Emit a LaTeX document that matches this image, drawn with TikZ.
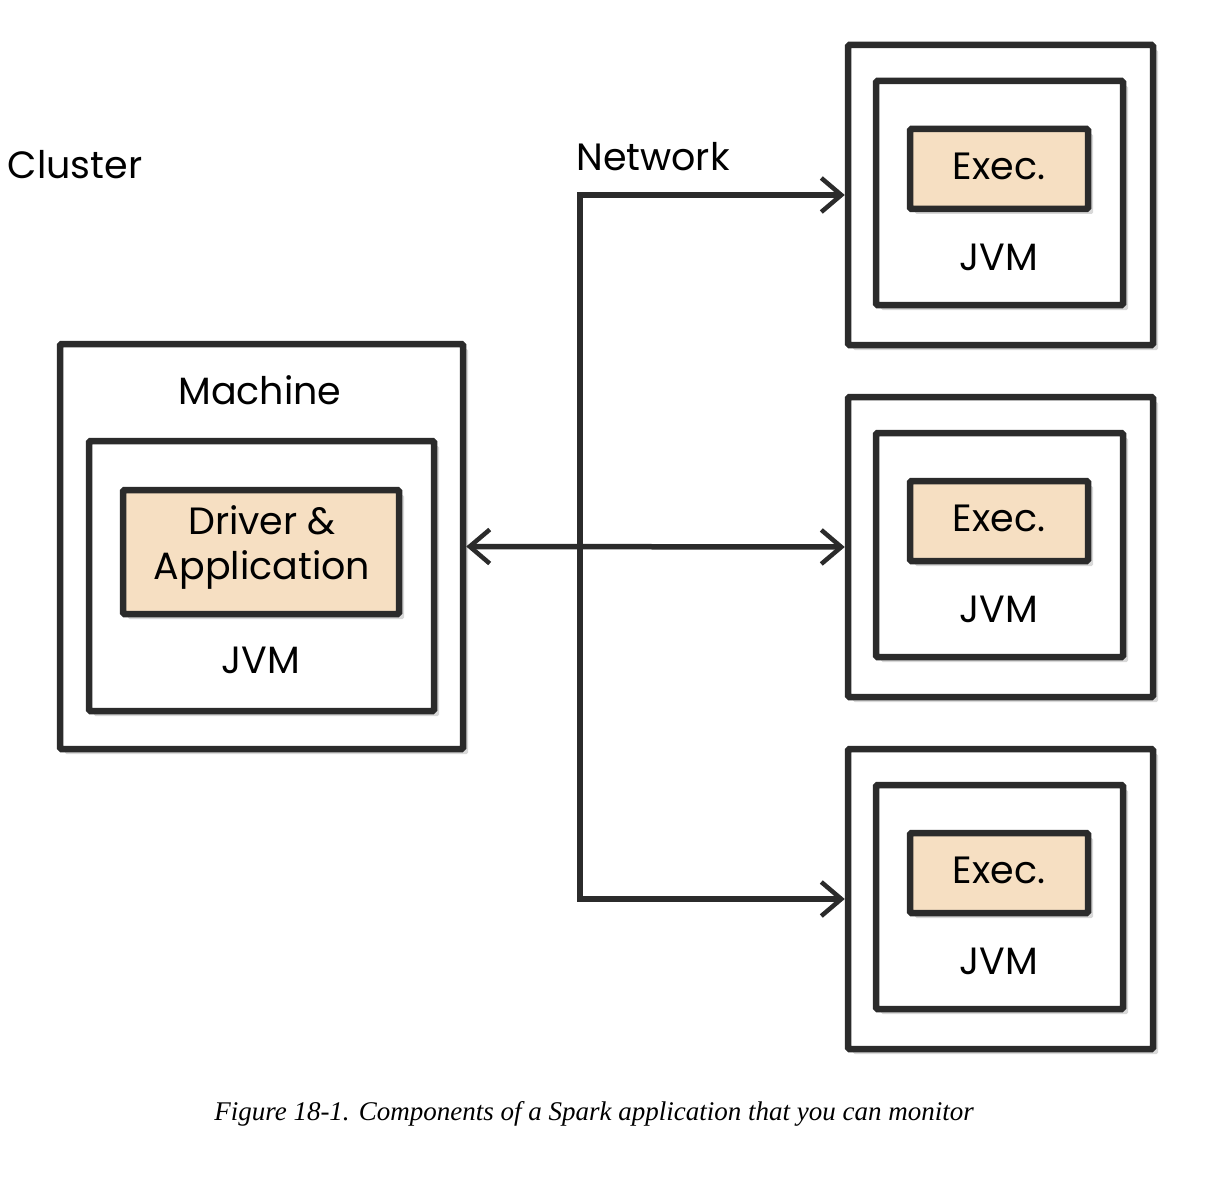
\documentclass[tikz,border=0pt]{standalone}
\usepackage{fontspec}
\setmainfont{Liberation Serif}
\newfontfamily\sketchfont{Poppins}
\usetikzlibrary{arrows.meta,shadows}
\definecolor{cexec}{HTML}{F6DFC2}
\definecolor{cline}{HTML}{2B2B2B}

\begin{document}
\begin{tikzpicture}[x=1pt,y=-1pt,
  box/.style={draw=cline, line width=6.5pt, fill=white, rounded corners=1.5pt, inner sep=0pt,
    drop shadow={shadow xshift=5pt, shadow yshift=-5pt, opacity=0.3}},
  proc/.style={box, fill=cexec},
  txt/.style={font=\sketchfont\fontsize{38}{45}\selectfont, text=black, align=center},
  link/.style={draw=cline, line width=5.5pt},
  tip/.tip={Straight Barb[length=20pt,width=34pt,line width=4.5pt]},
  arr/.style={link, -tip}
]
\useasboundingbox (0,0) rectangle (1214,1182);
% cluster
\node[txt] (cluster) at (75,165) {Cluster};
\node[txt] (network) at (653,157) {Network};
% machine with driver
\node[box, minimum width=403, minimum height=405] (machine) at (261.5,546.5) {};
\node[txt] (machinelbl) at (260,390) {Machine};
\node[box, minimum width=345, minimum height=270] (djvm) at (261.5,576) {};
\node[proc, minimum width=276, minimum height=124] (driver) at (261,552) {};
\node[txt] (driverlbl) at (262,547) {Driver \&\\Application};
\node[txt] (djvmlbl) at (261,660) {JVM};
% executors
\foreach \i/\y in {1/195,2/547,3/899}{
  \node[box, minimum width=305, minimum height=300] (m\i) at (1000.5,\y) {};
  \node[box, minimum width=247, minimum height=224] (j\i) at (999.5,\y-2) {};
  \node[proc, minimum width=178, minimum height=80] (e\i) at (999,\y-26) {};
  \node[txt] (elbl\i) at (999,\y-29) {Exec.};
  \node[txt] (jlbl\i) at (999,\y+62) {JVM};
}
% network
\coordinate (nt) at (580,195);
\coordinate (nb) at (580,899);
\draw[arr] (nb) |- (m1.west);
\draw[arr] (nt) |- (m3.west);
\draw[link, tip-tip] (machine.east) -- (m2.west);
% caption
\node[font=\itshape\fontsize{27}{31}\selectfont] (caption) at (594,1114)
  {Figure 18-1. Components of a Spark application that you can monitor};
\end{tikzpicture}
\end{document}
